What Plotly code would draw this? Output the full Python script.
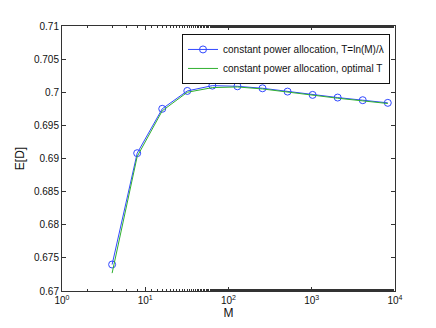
import plotly.graph_objects as go

M = [4, 8, 16, 32, 64, 128, 256, 512, 1024, 2048, 4096, 8192]
ed_fixed_T = [0.6740, 0.6908, 0.6975, 0.7002, 0.7010, 0.7009, 0.7006, 0.7001, 0.6996, 0.6992, 0.6988, 0.6984]
ed_opt_T = [0.6727, 0.6903, 0.6972, 0.7000, 0.7007, 0.7008, 0.7005, 0.7000, 0.6995, 0.6991, 0.6987, 0.6983]

x_ticks = [1, 10, 100, 1000, 10000]
x_ticktext = ["10<sup>0</sup>", "10<sup>1</sup>", "10<sup>2</sup>", "10<sup>3</sup>", "10<sup>4</sup>"]
y_ticks = [0.67, 0.675, 0.68, 0.685, 0.69, 0.695, 0.7, 0.705, 0.71]
y_ticktext = ["0.67", "0.675", "0.68", "0.685", "0.69", "0.695", "0.7", "0.705", "0.71"]

fig = go.Figure()
fig.add_trace(go.Scatter(
    x=M, y=ed_fixed_T, mode="lines+markers",
    name="constant power allocation, T=ln(M)/λ",
    line=dict(color="#3048ff", width=1),
    marker=dict(symbol="circle-open", size=7, color="#3048ff", line=dict(width=1)),
))
fig.add_trace(go.Scatter(
    x=M, y=ed_opt_T, mode="lines",
    name="constant power allocation, optimal T",
    line=dict(color="#30b030", width=1),
))

axis_style = dict(
    showgrid=False, zeroline=False, showline=True, linecolor="#333", linewidth=1,
    mirror="allticks", ticks="inside", ticklen=4, tickcolor="#333",
)

fig.update_xaxes(
    type="log", range=[0, 4], tickvals=x_ticks, ticktext=x_ticktext,
    title=dict(text="M", standoff=2),
    minor=dict(ticks="inside", ticklen=2, tickcolor="#333"),
    **axis_style,
)
fig.update_yaxes(
    range=[0.67, 0.71], tickvals=y_ticks, ticktext=y_ticktext,
    title=dict(text="E[D]", standoff=6),
    **axis_style,
)

# page body adds ~8px offset, so margins are shifted to compensate
fig.update_layout(
    width=436, height=328,
    margin=dict(l=49, r=49, t=17, b=45),
    paper_bgcolor="white", plot_bgcolor="white",
    font=dict(family="Liberation Sans, Arial, sans-serif", size=10, color="#111"),
    legend=dict(
        x=0.985, y=0.97, xanchor="right", yanchor="top",
        bgcolor="white", bordercolor="#111", borderwidth=1,
        font=dict(size=10), tracegroupgap=0, itemwidth=30,
    ),
)

fig.write_html("out.html")
